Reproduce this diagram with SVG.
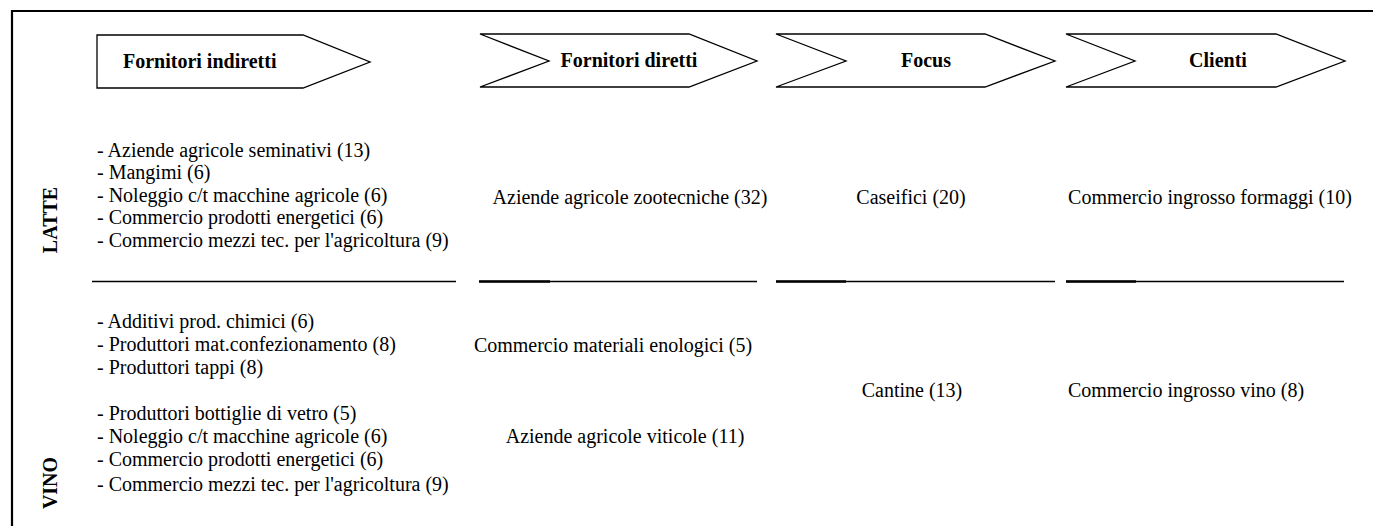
<svg xmlns="http://www.w3.org/2000/svg" width="1373" height="526" viewBox="0 0 1373 526" font-family="Liberation Serif" font-size="20">
<defs>
<path id="chev" d="M0 0 H209 L277 27 L209 53 H0 L69 27 Z"/>
</defs>
<rect width="1373" height="526" fill="#fff"/>
<g id="frame">
<path d="M12 526 V11 H1373" fill="none" stroke="#000" stroke-width="2.2"/>
</g>
<g id="h1">
<path d="M97 35 H303 L370 62 L303 88 H97 Z" fill="#fff" stroke="#000" stroke-width="1.3"/>
<text x="123" y="68" font-family="Liberation Serif" font-size="20" font-weight="bold">Fornitori indiretti</text>
</g>
<g id="h2">
<path d="M480 34 H689 L757 61 L689 87 H480 L549 61 Z" fill="#fff" stroke="#000" stroke-width="1.3"/>
<text x="629" y="67" text-anchor="middle" font-family="Liberation Serif" font-size="20" font-weight="bold">Fornitori diretti</text>
</g>
<g id="h3">
<path d="M776 34 H985 L1055 61 L985 87 H776 L846 61 Z" fill="#fff" stroke="#000" stroke-width="1.3"/>
<text x="926" y="67" text-anchor="middle" font-family="Liberation Serif" font-size="20" font-weight="bold">Focus</text>
</g>
<g id="h4">
<path d="M1066 34 H1276 L1345 61 L1276 87 H1066 L1135 61 Z" fill="#fff" stroke="#000" stroke-width="1.3"/>
<text x="1218" y="67" text-anchor="middle" font-family="Liberation Serif" font-size="20" font-weight="bold">Clienti</text>
</g>
<g id="rowlabels">
<text transform="translate(57 220) rotate(-90)" text-anchor="middle" font-family="Liberation Serif" font-size="20" font-weight="bold">LATTE</text>
<text transform="translate(57 483) rotate(-90)" text-anchor="middle" font-family="Liberation Serif" font-size="20" font-weight="bold">VINO</text>
</g>
<g id="latte-indiretti">
<text x="97" y="157" font-family="Liberation Serif" font-size="20">- Aziende agricole seminativi (13)</text>
<text x="97" y="179" font-family="Liberation Serif" font-size="20">- Mangimi (6)</text>
<text x="97" y="202" font-family="Liberation Serif" font-size="20">- Noleggio c/t macchine agricole (6)</text>
<text x="97" y="224" font-family="Liberation Serif" font-size="20">- Commercio prodotti energetici (6)</text>
<text x="97" y="247" font-family="Liberation Serif" font-size="20">- Commercio mezzi tec. per l'agricoltura (9)</text>
</g>
<g id="latte-diretti"><text x="630" y="204" text-anchor="middle" font-family="Liberation Serif" font-size="20">Aziende agricole zootecniche (32)</text></g>
<g id="latte-focus"><text x="911" y="204" text-anchor="middle" font-family="Liberation Serif" font-size="20">Caseifici (20)</text></g>
<g id="latte-clienti"><text x="1210" y="204" text-anchor="middle" font-family="Liberation Serif" font-size="20">Commercio ingrosso formaggi (10)</text></g>
<g id="separators" stroke="#000">
<line x1="92" y1="281.5" x2="456" y2="281.5" stroke-width="1.6"/>
<line x1="479" y1="281.5" x2="757" y2="281.5" stroke-width="1.6"/>
<line x1="479" y1="281.5" x2="550" y2="281.5" stroke-width="2.6"/>
<line x1="776" y1="281.5" x2="1055" y2="281.5" stroke-width="1.6"/>
<line x1="776" y1="281.5" x2="846" y2="281.5" stroke-width="2.6"/>
<line x1="1066" y1="281.5" x2="1344" y2="281.5" stroke-width="1.6"/>
<line x1="1066" y1="281.5" x2="1136" y2="281.5" stroke-width="2.6"/>
</g>
<g id="vino-indiretti">
<text x="97" y="328" font-family="Liberation Serif" font-size="20">- Additivi prod. chimici (6)</text>
<text x="97" y="351" font-family="Liberation Serif" font-size="20">- Produttori mat.confezionamento (8)</text>
<text x="97" y="374" font-family="Liberation Serif" font-size="20">- Produttori tappi (8)</text>
<text x="97" y="420" font-family="Liberation Serif" font-size="20">- Produttori bottiglie di vetro (5)</text>
<text x="97" y="443" font-family="Liberation Serif" font-size="20">- Noleggio c/t macchine agricole (6)</text>
<text x="97" y="466" font-family="Liberation Serif" font-size="20">- Commercio prodotti energetici (6)</text>
<text x="97" y="491" font-family="Liberation Serif" font-size="20">- Commercio mezzi tec. per l'agricoltura (9)</text>
</g>
<g id="vino-diretti">
<text x="613" y="352" text-anchor="middle" font-family="Liberation Serif" font-size="20">Commercio materiali enologici (5)</text>
<text x="625" y="443" text-anchor="middle" font-family="Liberation Serif" font-size="20">Aziende agricole viticole (11)</text>
</g>
<g id="vino-focus"><text x="912" y="397" text-anchor="middle" font-family="Liberation Serif" font-size="20">Cantine (13)</text></g>
<g id="vino-clienti"><text x="1186" y="397" text-anchor="middle" font-family="Liberation Serif" font-size="20">Commercio ingrosso vino (8)</text></g>
</svg>
